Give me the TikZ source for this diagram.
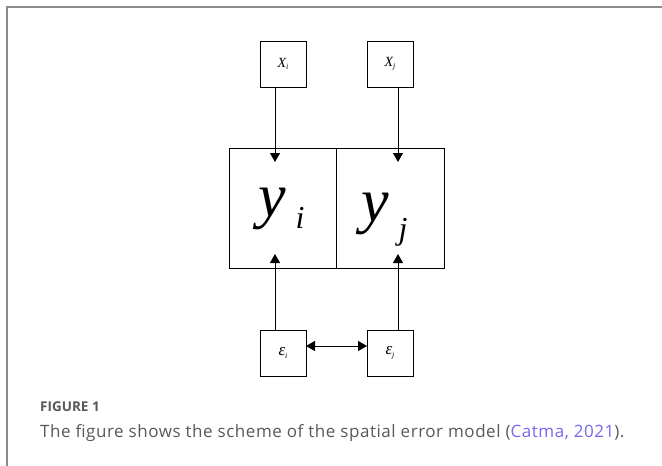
\documentclass[tikz,border=0pt]{standalone}
\usepackage{fontspec}
\setmainfont{Liberation Serif}
\newfontfamily\capfont{Open Sans}
\usetikzlibrary{arrows.meta}
\definecolor{capgray}{RGB}{88,88,88}
\definecolor{linkblue}{RGB}{118,104,236}
\definecolor{framegray}{RGB}{140,140,140}
\newcommand\smalllab[3]{{\fontsize{#3}{#3}\selectfont\itshape #1}\raisebox{-2.5pt}{\fontsize{8}{8}\selectfont\itshape #2}}
\newcommand\biglab[3]{{\fontsize{62}{62}\selectfont\itshape y}\raisebox{#3}{\fontsize{32}{32}\selectfont\itshape\hspace{#2}#1}}

\begin{document}
\begin{tikzpicture}[x=1pt, y=-1pt,
    sbox/.style={draw, line width=0.9pt, minimum size=46pt, inner sep=0, outer sep=0},
    bbox/.style={draw, line width=0.9pt, minimum width=107.5pt, minimum height=120pt, inner sep=0, outer sep=0},
    arr/.style={line width=0.9pt, -{Triangle[length=9pt, width=10pt]}},
    txt/.style={anchor=base west, inner sep=0}]
    \useasboundingbox (0,0) rectangle (662,466);

    % frame
    \draw[framegray, line width=2pt] (7,466) -- (7,7) -- (662,7);

    % inputs
    \node[sbox] (xi) at (283,64) {\smalllab{X}{i}{14}};
    \node[sbox] (xj) at (390,64) {\smalllab{X}{j}{14}};

    % the two halves of the middle box
    \node[bbox] (yi) at (282.75,208) {};
    \node[bbox] (yj) at (390.25,208) {};
    \node[txt] (yilab) at (258,216) {\biglab{i}{10pt}{-12pt}};
    \node[txt] (yjlab) at (361,221) {\biglab{j}{10pt}{-18pt}};

    % errors
    \node[sbox] (ei) at (283,353) {\smalllab{ε}{i}{17}};
    \node[sbox] (ej) at (390,353) {\smalllab{ε}{j}{17}};

    % arrow ends inside the middle box
    \coordinate (ti) at (275,162);
    \coordinate (tj) at (398,162);
    \coordinate (bi) at (275,254);
    \coordinate (bj) at (398,254);

    % X to y
    \draw[arr] (xi.south -| ti) -- (ti);
    \draw[arr] (xj.south -| tj) -- (tj);

    % epsilon to y
    \draw[arr] (ei.north -| bi) -- (bi);
    \draw[arr] (ej.north -| bj) -- (bj);

    % epsilon to epsilon
    \draw[arr, {Triangle[length=9pt, width=10pt]}-{Triangle[length=9pt, width=10pt]}]
        ([yshift=7pt]ei.east) -- ([yshift=7pt]ej.west);

    % caption
    \node[txt, text=capgray] (fig) at (40,411.5)
        {\capfont\bfseries\fontsize{13.5}{13.5}\selectfont FIGURE 1};
    \node[txt, text=capgray] (cap) at (40,437)
        {\capfont\addfontfeatures{LetterSpace=3.2}\fontsize{17}{17}\selectfont The figure shows the scheme of the spatial error model (\textcolor{linkblue}{Catma, 2021}).};
\end{tikzpicture}
\end{document}
